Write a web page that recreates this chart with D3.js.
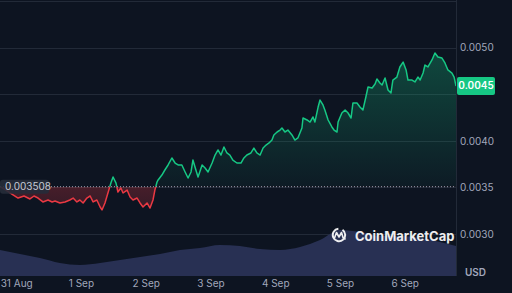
<!DOCTYPE html>
<html>
<head>
<meta charset="utf-8">
<script src="https://cdn.jsdelivr.net/npm/d3@7"></script>
<style>
  html, body { margin: 0; padding: 0; background: #0d1421; }
  svg { display: block; font-family: Inter, 'Noto Sans', sans-serif; }
  .tick-label { fill: #a1a7bb; font-size: 10px; }
</style>
</head>
<body>
<svg id="chart"></svg>
<script>
// hours after 30 Aug 18:00 and price in USD
const priceHours = [0, 2.2, 4.4, 6.7, 8.9, 11.1, 12.6, 14.1, 15.9, 17.8, 19.3, 20.4, 22.2, 24.1, 25.9, 27.1, 28.5, 29.6, 30.8, 32.2,
  33.4, 34.5, 35.9, 37.1, 37.8, 38.9, 40.0, 41.1, 41.9, 43.0, 43.7, 44.8, 45.6, 47.1, 48.2, 49.3, 50.8, 51.9, 53.0, 54.5,
  55.6, 56.7, 57.4, 58.2, 58.6, 60.0, 61.1, 62.3, 63.7, 64.9, 66.0, 67.4, 68.6, 69.7, 70.8, 71.5, 72.6, 73.4, 74.9, 76.0,
  77.1, 78.6, 79.7, 80.8, 81.9, 83.0, 84.1, 85.2, 86.3, 87.8, 89.3, 90.4, 91.5, 93.0, 94.1, 95.2, 96.4, 97.5, 98.6, 99.7,
  100.8, 101.5, 102.7, 103.8, 104.5, 105.6, 106.7, 108.2, 109.3, 110.4, 111.9, 112.3, 113.8, 114.9, 116.0, 116.7, 117.9, 118.6, 119.7, 120.4,
  121.6, 123.0, 123.8, 124.9, 125.3, 126.7, 127.9, 129.0, 130.1, 130.8, 132.3, 133.4, 134.5, 135.6, 136.4, 137.9, 139.0, 139.7, 140.8, 141.6,
  142.7, 143.8, 144.9, 145.6, 147.1, 148.2, 149.4, 150.5, 151.2, 152.7, 153.8, 154.9, 155.7, 156.8, 157.5, 158.6, 160.1, 161.2, 162.3, 163.8,
  164.9, 166.0, 167.5, 168.3, 169.0];
const priceValues = [0.003508, 0.003472, 0.003429, 0.003386, 0.003408, 0.003376, 0.003408, 0.003386, 0.003344, 0.003365, 0.003344, 0.003354, 0.003333, 0.003344, 0.003365, 0.003386, 0.003344, 0.003365, 0.003333, 0.003386,
  0.003408, 0.003344, 0.003365, 0.003290, 0.003258, 0.003333, 0.003440, 0.003547, 0.003612, 0.003547, 0.003451, 0.003494, 0.003440, 0.003472, 0.003397, 0.003365, 0.003386, 0.003333, 0.003290, 0.003333,
  0.003279, 0.003365, 0.003472, 0.003558, 0.003580, 0.003633, 0.003687, 0.003741, 0.003816, 0.003762, 0.003741, 0.003741, 0.003666, 0.003601, 0.003666, 0.003794, 0.003687, 0.003612, 0.003741, 0.003709,
  0.003666, 0.003762, 0.003848, 0.003902, 0.003848, 0.003934, 0.003870, 0.003848, 0.003794, 0.003762, 0.003762, 0.003816, 0.003848, 0.003870, 0.003923, 0.003870, 0.003848, 0.003923, 0.003955, 0.003977,
  0.004009, 0.004063, 0.004095, 0.004116, 0.004138, 0.004095, 0.004116, 0.004063, 0.004009, 0.004031, 0.004138, 0.004245, 0.004224, 0.004202, 0.004256, 0.004202, 0.004363, 0.004438, 0.004385, 0.004331,
  0.004224, 0.004149, 0.004116, 0.004095, 0.004202, 0.004299, 0.004331, 0.004299, 0.004245, 0.004406, 0.004406, 0.004363, 0.004331, 0.004471, 0.004578, 0.004567, 0.004610, 0.004664, 0.004621, 0.004600,
  0.004675, 0.004546, 0.004514, 0.004653, 0.004685, 0.004793, 0.004846, 0.004761, 0.004653, 0.004653, 0.004632, 0.004685, 0.004653, 0.004728, 0.004814, 0.004793, 0.004868, 0.004943, 0.004900, 0.004889,
  0.004836, 0.004761, 0.004728, 0.004685, 0.004589];

// 24h volume (thousand USD)
const volumeHours = [0, 7.4, 14.8, 22.2, 29.6, 37.1, 44.5, 51.9, 59.3, 66.7, 74.1, 81.5, 88.9, 96.4, 103.8, 111.2, 118.6, 126.0, 133.4, 140.8, 148.2, 155.7, 163.1, 169.0];
const volumeValues = [520, 440, 360, 260, 220, 260, 320, 380, 440, 520, 560, 620, 600, 540, 520, 580, 720, 920, 880, 800, 800, 760, 680, 600];

const openPrice = 0.003508;
const lastPrice = 0.004589;
// 0.0045 sits under the last-price badge, so only its gridline shows
const yTicks = [0.0030, 0.0035, 0.0040, 0.0050];
const gridValues = [0.0030, 0.0035, 0.0040, 0.0045, 0.0050, 0.0055];

const width = 512;
const height = 293;
const plotRight = 456;
const volBottom = 276;

const green = '#16c784';
const red = '#ea3943';

const startTime = new Date(2024, 7, 30, 18, 0);
const endTime = new Date(2024, 8, 6, 19, 0);
const toDate = (h) => new Date(startTime.getTime() + h * 3600e3);

const prices = priceHours.map((h, i) => ({ t: toDate(h), v: priceValues[i] }));
const volumes = volumeHours.map((h, i) => ({ t: toDate(h), v: volumeValues[i] }));

const svg = d3.select('#chart').attr('width', width).attr('height', height);
svg.append('rect').attr('width', width).attr('height', height).attr('fill', '#0d1421');

const x = d3.scaleTime().domain([startTime, endTime]).range([0, plotRight]);
const y = d3.scaleLinear().domain([0.003, 0.005]).range([234, 47.7]);
const yVol = d3.scaleLinear().domain([0, 1200]).range([volBottom, volBottom - 60]);
const baseY = y(openPrice);

const defs = svg.append('defs');
defs.append('clipPath').attr('id', 'clip-up')
  .append('rect').attr('x', 0).attr('y', 0).attr('width', plotRight).attr('height', baseY);
defs.append('clipPath').attr('id', 'clip-down')
  .append('rect').attr('x', 0).attr('y', baseY).attr('width', plotRight).attr('height', height - baseY);

const gUp = defs.append('linearGradient').attr('id', 'grad-up')
  .attr('gradientUnits', 'userSpaceOnUse')
  .attr('x1', 0).attr('x2', 0).attr('y1', y(0.005)).attr('y2', baseY);
gUp.append('stop').attr('offset', 0).attr('stop-color', green).attr('stop-opacity', 0.3);
gUp.append('stop').attr('offset', 1).attr('stop-color', green).attr('stop-opacity', 0.04);

const gDown = defs.append('linearGradient').attr('id', 'grad-down')
  .attr('gradientUnits', 'userSpaceOnUse')
  .attr('x1', 0).attr('x2', 0).attr('y1', baseY).attr('y2', y(0.0032));
gDown.append('stop').attr('offset', 0).attr('stop-color', red).attr('stop-opacity', 0.26);
gDown.append('stop').attr('offset', 1).attr('stop-color', red).attr('stop-opacity', 0.16);

// grid
svg.append('g').selectAll('line').data(gridValues).join('line')
  .attr('x1', 0).attr('x2', plotRight)
  .attr('y1', (d) => Math.round(y(d)) + 0.5).attr('y2', (d) => Math.round(y(d)) + 0.5)
  .attr('stroke', '#222a38').attr('stroke-width', 1);
svg.append('line')
  .attr('x1', plotRight + 0.5).attr('x2', plotRight + 0.5)
  .attr('y1', 0).attr('y2', volBottom)
  .attr('stroke', '#222a38');

// volume
svg.append('path').datum(volumes)
  .attr('fill', '#283053')
  .attr('d', d3.area().x((d) => x(d.t)).y0(volBottom).y1((d) => yVol(d.v)).curve(d3.curveMonotoneX));

// price fills
const area = d3.area().x((d) => x(d.t)).y0(baseY).y1((d) => y(d.v));
svg.append('path').datum(prices).attr('clip-path', 'url(#clip-up)')
  .attr('fill', 'url(#grad-up)').attr('d', area);
svg.append('path').datum(prices).attr('clip-path', 'url(#clip-down)')
  .attr('fill', 'url(#grad-down)').attr('d', area);

// price line
const line = d3.line().x((d) => x(d.t)).y((d) => y(d.v));
svg.append('path').datum(prices).attr('clip-path', 'url(#clip-up)')
  .attr('fill', 'none').attr('stroke', green).attr('stroke-width', 1.5)
  .attr('stroke-linejoin', 'round').attr('d', line);
svg.append('path').datum(prices).attr('clip-path', 'url(#clip-down)')
  .attr('fill', 'none').attr('stroke', red).attr('stroke-width', 1.5)
  .attr('stroke-linejoin', 'round').attr('d', line);

// open price dotted line
svg.append('line')
  .attr('x1', 0).attr('x2', plotRight)
  .attr('y1', baseY).attr('y2', baseY)
  .attr('stroke', '#9aa0b0').attr('stroke-width', 1)
  .attr('stroke-dasharray', '1,2');

// axes
const xAxis = d3.axisBottom(x)
  .ticks(d3.timeDay.every(1))
  .tickFormat(d3.timeFormat('%-d %b'))
  .tickSize(0).tickPadding(0);
const gx = svg.append('g').attr('transform', `translate(0, ${height - 13})`).call(xAxis);
gx.select('.domain').remove();
gx.selectAll('text').attr('class', 'tick-label').attr('dy', '0.71em').attr('y', 0)
  .style('font-family', 'Inter, sans-serif');

const yAxis = d3.axisRight(y).tickValues(yTicks).tickFormat(d3.format('.4f')).tickSize(0).tickPadding(0);
const gy = svg.append('g').attr('transform', `translate(${plotRight + 4}, 0)`).call(yAxis);
gy.select('.domain').remove();
gy.selectAll('text').attr('class', 'tick-label').style('font-family', 'Inter, sans-serif');

svg.append('text').attr('x', 465).attr('y', 276)
  .attr('fill', '#a1a7bb').attr('font-size', 10).attr('font-weight', 600)
  .text('USD');

// watermark
const wm = svg.append('g').attr('opacity', 0.92);
wm.append('path')
  .attr('d', d3.arc()({ innerRadius: 5.2, outerRadius: 7.2, startAngle: 0.6, endAngle: 2 * Math.PI - 0.1 }))
  .attr('transform', 'translate(339, 235)')
  .attr('fill', '#ffffff');
wm.append('path')
  .attr('d', 'M334.5,238 L336.5,232.5 L339,237 L341.5,232.5 L343,237.5 L345,239')
  .attr('fill', 'none').attr('stroke', '#ffffff').attr('stroke-width', 1.6)
  .attr('stroke-linejoin', 'round').attr('stroke-linecap', 'round');
wm.append('text').attr('x', 355).attr('y', 240.5)
  .attr('fill', '#ffffff').attr('font-size', 13).attr('font-weight', 700)
  .text('CoinMarketCap');

// open price label
svg.append('rect').attr('x', 0).attr('y', baseY - 7).attr('width', 49).attr('height', 14).attr('rx', 3)
  .attr('fill', '#262c3a').attr('opacity', 0.9);
svg.append('text').attr('x', 5).attr('y', baseY + 3.5)
  .attr('fill', '#c6cad5').attr('font-size', 10)
  .text(d3.format('.6f')(openPrice));

// last price badge (price is cut to 4 decimals, not rounded)
const lastY = y(lastPrice);
svg.append('rect').attr('x', 457).attr('y', lastY - 9).attr('width', 38).attr('height', 18).attr('rx', 2)
  .attr('fill', green);
svg.append('text').attr('x', 476).attr('y', lastY + 3.5).attr('text-anchor', 'middle')
  .attr('fill', '#ffffff').attr('font-size', 10).attr('font-weight', 600)
  .text(d3.format('.4f')(Math.floor(lastPrice * 1e4) / 1e4));
</script>
</body>
</html>
